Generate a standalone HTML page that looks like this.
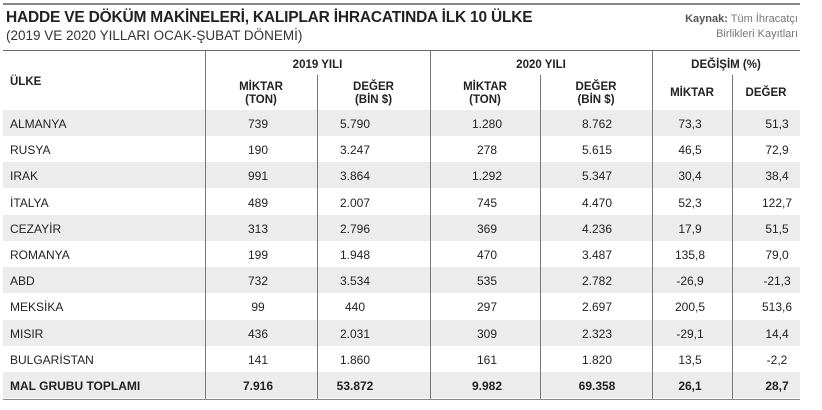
<!DOCTYPE html>
<html><head><meta charset="utf-8"><style>
body{margin:0;background:#fff;width:822px;height:410px;position:relative;overflow:hidden;font-family:"Liberation Sans",sans-serif;color:#222}
.a{position:absolute;white-space:nowrap}
.hl{position:absolute;height:1px;background:#666}
.vl{position:absolute;width:1px;background:#777}
.h{font-weight:bold;font-size:11.5px;text-align:center;line-height:13px}
.c{font-size:12px;transform:translateX(-50%)}
</style></head><body>
<div class="hl" style="left:3px;top:3px;width:797px;height:2px;background:#888"></div>
<div class="a" style="left:6px;top:9px;font-size:15.5px;font-weight:bold;letter-spacing:-0.2px">HADDE VE DÖKÜM MAKİNELERİ, KALIPLAR İHRACATINDA İLK 10 ÜLKE</div>
<div class="a" style="left:6px;top:28px;font-size:13.5px;color:#333">(2019 VE 2020 YILLARI OCAK-ŞUBAT DÖNEMİ)</div>
<div class="a" style="right:24px;top:12px;font-size:11px;color:#777;text-align:right;line-height:15px"><b style="color:#555">Kaynak:</b> Tüm İhracatçı<br>Birlikleri Kayıtları</div>
<div class="hl" style="left:3px;top:50px;width:797px"></div>
<div class="a h" style="left:10px;top:76px;text-align:left">ÜLKE</div>
<div class="a h" style="left:205px;width:225px;top:59px">2019 YILI</div>
<div class="a h" style="left:430px;width:222px;top:59px">2020 YILI</div>
<div class="a h" style="left:652px;width:148px;top:59px">DEĞİŞİM (%)</div>
<div class="a h" style="left:205px;width:112px;top:81px">MİKTAR<br>(TON)</div>
<div class="a h" style="left:317px;width:113px;top:81px">DEĞER<br>(BİN $)</div>
<div class="a h" style="left:430px;width:110px;top:81px">MİKTAR<br>(TON)</div>
<div class="a h" style="left:540px;width:112px;top:81px">DEĞER<br>(BİN $)</div>
<div class="a h" style="left:652px;width:80px;top:87px">MİKTAR</div>
<div class="a h" style="left:732px;width:68px;top:87px">DEĞER</div>
<div id="rows"></div>
<div class="vl" style="left:205px;top:50px;height:349px"></div>
<div class="vl" style="left:430px;top:50px;height:349px"></div>
<div class="vl" style="left:652px;top:50px;height:349px"></div>
<div class="vl" style="left:317px;top:75px;height:324px"></div>
<div class="vl" style="left:540px;top:75px;height:324px"></div>
<div class="vl" style="left:732px;top:75px;height:324px"></div>
<div class="hl" style="left:3px;top:399px;width:797px;background:#888"></div>
<script>
const countries=["ALMANYA","RUSYA","IRAK","İTALYA","CEZAYİR","ROMANYA","ABD","MEKSİKA","MISIR","BULGARİSTAN","MAL GRUBU TOPLAMI"];
const qty2019=["739","190","991","489","313","199","732","99","436","141","7.916"];
const val2019=["5.790","3.247","3.864","2.007","2.796","1.948","3.534","440","2.031","1.860","53.872"];
const qty2020=["1.280","278","1.292","745","369","470","535","297","309","161","9.982"];
const val2020=["8.762","5.615","5.347","4.470","4.236","3.487","2.782","2.697","2.323","1.820","69.358"];
const chgQty=["73,3","46,5","30,4","52,3","17,9","135,8","-26,9","200,5","-29,1","13,5","26,1"];
const chgVal=["51,3","72,9","38,4","122,7","51,5","79,0","-21,3","513,6","14,4","-2,2","28,7"];
const cols=[[qty2019,258],[val2019,355],[qty2020,487],[val2020,597],[chgQty,690],[chgVal,777]];
const R=document.getElementById('rows');
countries.forEach((c,i)=>{
  const top=110+i*26.2;
  const last=i===countries.length-1;
  if(i%2===0){const b=document.createElement('div');b.className='a';
    b.style.cssText=`left:3px;top:${top}px;width:797px;height:26px;background:#ececec`;
    
    
    R.appendChild(b);}
  const n=document.createElement('div');n.className='a';
  n.style.cssText=`left:10px;top:${top+7}px;font-size:12px;${last?'font-weight:bold':''}`;
  n.textContent=c;
  
  
  R.appendChild(n);
  cols.forEach(([arr,x])=>{const d=document.createElement('div');d.className='a c';
    d.style.cssText=`left:${x}px;top:${top+7}px;${last?'font-weight:bold':''}`;
    d.textContent=arr[i];
    
    
    R.appendChild(d);});
});
</script>
</body></html>
